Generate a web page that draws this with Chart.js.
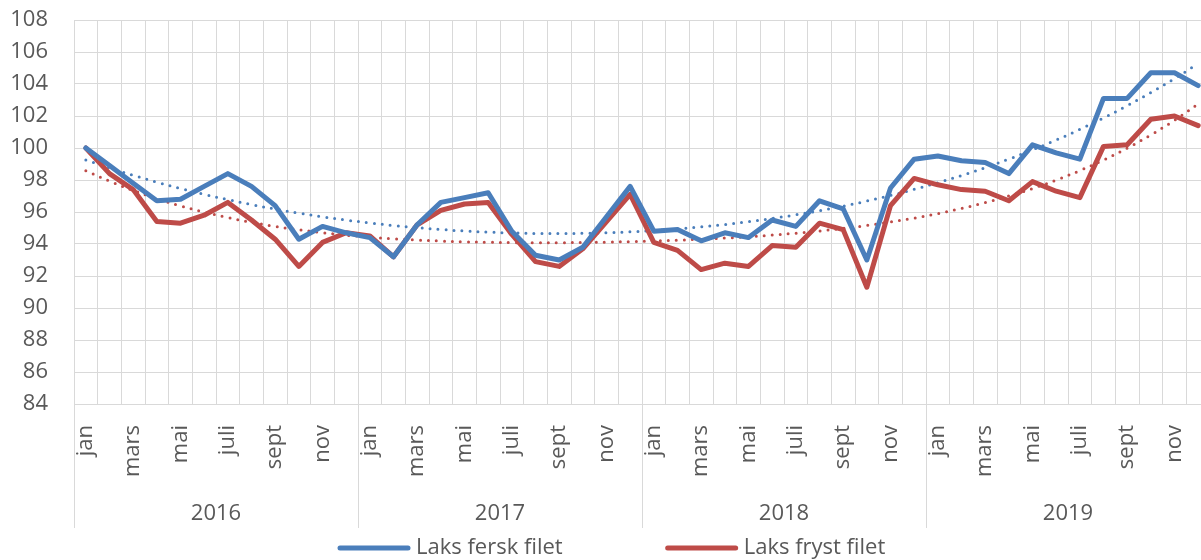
<!DOCTYPE html>
<html>
<head>
<meta charset="utf-8">
<script src="https://cdn.jsdelivr.net/npm/chart.js@4.4.1/dist/chart.umd.min.js"></script>
<style>
  html, body { margin: 0; padding: 0; background: #fff; overflow: hidden; }
  #wrap { width: 1201px; height: 560px; overflow: hidden; position: relative; }
  #graf { position: absolute; left: 0; top: 0; }
</style>
</head>
<body>
<div id="wrap"><canvas id="graf" width="1212" height="570"></canvas></div>
<script>
const aar = ["2016", "2017", "2018", "2019"];
const maaneder = ["jan", "feb", "mars", "april", "mai", "juni", "juli", "aug", "sept", "okt", "nov", "des"];

// Prisindeks, jan 2016 = 100
const laksFersk = [
  100.0, 98.9, 97.8, 96.7, 96.8, 97.6, 98.4, 97.6, 96.4, 94.3, 95.1, 94.7,
  94.4, 93.2, 95.2, 96.6, 96.9, 97.2, 94.8, 93.3, 93.0, 93.8, 95.7, 97.6,
  94.8, 94.9, 94.2, 94.7, 94.4, 95.5, 95.1, 96.7, 96.2, 93.0, 97.5, 99.3,
  99.5, 99.2, 99.1, 98.4, 100.2, 99.7, 99.3, 103.1, 103.1, 104.7, 104.7, 103.9
];
const laksFryst = [
  100.0, 98.4, 97.4, 95.4, 95.3, 95.8, 96.6, 95.5, 94.3, 92.6, 94.1, 94.7,
  94.5, 93.2, 95.2, 96.1, 96.5, 96.6, 94.6, 92.9, 92.6, 93.7, 95.4, 97.1,
  94.1, 93.6, 92.4, 92.8, 92.6, 93.9, 93.8, 95.3, 94.9, 91.3, 96.4, 98.1,
  97.7, 97.4, 97.3, 96.7, 97.9, 97.3, 96.9, 100.1, 100.2, 101.8, 102.0, 101.4
];
const yMin = 84, yMax = 108, yStep = 2;
const trendGrad = 4;

const labels = [];
aar.forEach(() => maaneder.forEach(m => labels.push(m)));

const BLAA = "#4A7EBB";
const ROED = "#BE4B48";
const TEKST = "#595959";
const GRID = "#D9D9D9";
const FONT = "'Open Sans', sans-serif";

// Polynomisk trendlinje (minste kvadraters metode), som i Excel
function trend(values, order) {
  const n = values.length;
  const xs = values.map((_, i) => i / (n - 1));
  const m = order + 1;
  const A = Array.from({ length: m }, () => new Array(m + 1).fill(0));
  for (let i = 0; i < n; i++) {
    for (let r = 0; r < m; r++) {
      for (let c = 0; c < m; c++) A[r][c] += Math.pow(xs[i], r + c);
      A[r][m] += Math.pow(xs[i], r) * values[i];
    }
  }
  for (let col = 0; col < m; col++) {
    let piv = col;
    for (let r = col + 1; r < m; r++) if (Math.abs(A[r][col]) > Math.abs(A[piv][col])) piv = r;
    [A[col], A[piv]] = [A[piv], A[col]];
    for (let r = 0; r < m; r++) {
      if (r === col) continue;
      const f = A[r][col] / A[col][col];
      for (let c = col; c <= m; c++) A[r][c] -= f * A[col][c];
    }
  }
  const coef = A.map((row, i) => row[m] / row[i]);
  return xs.map(x => coef.reduce((s, a, k) => s + a * Math.pow(x, k), 0));
}

// År under månedene + skillelinjer
const aarPlugin = {
  id: "aarPlugin",
  afterDraw(chart) {
    const { ctx, chartArea } = chart;
    const x = chart.scales.x;
    const w = (x.right - x.left) / labels.length;
    ctx.save();
    ctx.strokeStyle = GRID;
    ctx.lineWidth = 1;
    for (let i = 0; i <= aar.length; i++) {
      const px = Math.round(x.left + i * 12 * w) + 0.5;
      ctx.beginPath();
      ctx.moveTo(px, chartArea.bottom);
      ctx.lineTo(px, chartArea.bottom + 124);
      ctx.stroke();
    }
    ctx.fillStyle = TEKST;
    ctx.font = "22px " + FONT;
    ctx.textAlign = "center";
    ctx.textBaseline = "middle";
    aar.forEach((a, i) => {
      ctx.fillText(a, x.left + (i * 12 + 6) * w, chartArea.bottom + 110);
    });
    ctx.restore();
  }
};

// Forklaring nederst
const legendPlugin = {
  id: "legendPlugin",
  afterDraw(chart) {
    const { ctx } = chart;
    const y = 548;
    ctx.save();
    ctx.font = "22px " + FONT;
    ctx.textBaseline = "middle";
    ctx.textAlign = "left";
    ctx.lineCap = "round";
    ctx.lineWidth = 5;
    let cx = 340;
    chart.data.datasets.slice(0, 2).forEach(ds => {
      ctx.strokeStyle = ds.borderColor;
      ctx.beginPath();
      ctx.moveTo(cx, y);
      ctx.lineTo(cx + 68, y);
      ctx.stroke();
      ctx.fillStyle = TEKST;
      ctx.fillText(ds.label, cx + 76, y);
      cx += 76 + ctx.measureText(ds.label).width + 105;
    });
    ctx.restore();
  }
};

const hovedLinje = (label, data, farge) => ({
  label, data,
  borderColor: farge,
  borderWidth: 5,
  borderJoinStyle: "round",
  borderCapStyle: "round",
  pointRadius: 0,
  tension: 0
});
const trendLinje = (label, data, farge) => ({
  label,
  data: trend(data, trendGrad),
  borderColor: farge,
  borderWidth: 3,
  borderDash: [0, 8],
  borderCapStyle: "round",
  pointRadius: 0,
  tension: 0.4
});

new Chart(document.getElementById("graf"), {
  type: "line",
  data: {
    labels: labels,
    datasets: [
      hovedLinje("Laks fersk filet", laksFersk, BLAA),
      hovedLinje("Laks fryst filet", laksFryst, ROED),
      trendLinje("Poly. (Laks fersk filet)", laksFersk, BLAA),
      trendLinje("Poly. (Laks fryst filet)", laksFryst, ROED)
    ]
  },
  options: {
    responsive: false,
    animation: false,
    layout: { padding: { top: 20, left: 0, right: 2, bottom: 0 } },
    scales: {
      x: {
        offset: true,
        grid: { offset: true, color: GRID, drawTicks: false },
        border: { color: GRID },
        ticks: {
          autoSkip: false,
          minRotation: 90,
          maxRotation: 90,
          padding: 21,
          color: TEKST,
          font: { family: FONT, size: 22 },
          callback: function (v, i) { return i % 2 === 0 ? this.getLabelForValue(v) : ""; }
        },
        afterFit: s => { s.height = 166; s.paddingLeft = 0; s.paddingRight = 0; }
      },
      y: {
        min: yMin,
        max: yMax,
        grid: { color: GRID, drawTicks: false },
        border: { color: GRID },
        ticks: {
          stepSize: yStep,
          padding: 26,
          color: TEKST,
          font: { family: FONT, size: 22 }
        },
        afterFit: s => { s.width = 74; s.paddingTop = 0; s.paddingBottom = 0; }
      }
    },
    plugins: {
      legend: { display: false },
      tooltip: { enabled: false }
    }
  },
  plugins: [aarPlugin, legendPlugin]
});
</script>
</body>
</html>
